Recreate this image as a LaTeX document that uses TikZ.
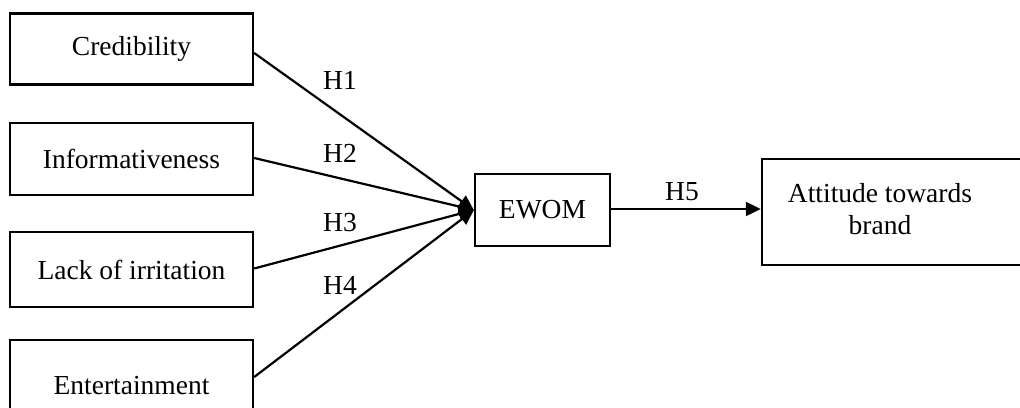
\documentclass[tikz,border=0pt]{standalone}
\usepackage{fontspec}
\setmainfont{Liberation Serif}
\usetikzlibrary{arrows.meta,calc}
\begin{document}
\begin{tikzpicture}[x=1pt,y=-1pt,
  box/.style={draw, line width=2.4pt, inner sep=0pt, font=\fontsize{27.5}{32}\selectfont},
  conn/.style={line width=2.2pt, -{Triangle[length=15pt,width=14pt]}},
  hlab/.style={font=\fontsize{27.5}{32}\selectfont, inner sep=0pt}]
\useasboundingbox (0,0) rectangle (1020,407);
\clip (0,0) rectangle (1020,407);
\node[box, minimum width=243pt, minimum height=71pt] (cred) at (131.5,49) {Credibility};
\node[box, minimum width=243pt, minimum height=72pt] (info) at (131.5,159) {Informativeness};
\node[box, minimum width=243pt, minimum height=75pt] (lack) at (131.5,269.5) {Lack of irritation};
\node[box, minimum width=243pt, minimum height=92pt] (ent) at (131.5,386) {Entertainment};
\node[box, minimum width=135pt, minimum height=72pt] (ewom) at (542.5,210) {EWOM};
\node[box, minimum width=278pt, minimum height=106pt, align=center] (att) at (901,212)
  {\begin{tabular}{@{}c@{}}Attitude towards\\brand\end{tabular}\hspace{42pt}};
\draw[conn] ($(cred.east)+(0,4)$) -- (ewom.west);
\draw[conn] ($(info.east)+(0,-1)$) -- (ewom.west);
\draw[conn] ($(lack.east)+(0,-1)$) -- (ewom.west);
\draw[conn] ($(ent.east)+(0,-9)$) -- (ewom.west);
\draw[conn] (ewom.east |- 0,209) -- (att.west |- 0,209);
\node[hlab] (h1) at (340,80) {H1};
\node[hlab] (h2) at (340,153) {H2};
\node[hlab] (h3) at (340,223) {H3};
\node[hlab] (h4) at (340,285) {H4};
\node[hlab] (h5) at (682,192) {H5};
\end{tikzpicture}
\end{document}
